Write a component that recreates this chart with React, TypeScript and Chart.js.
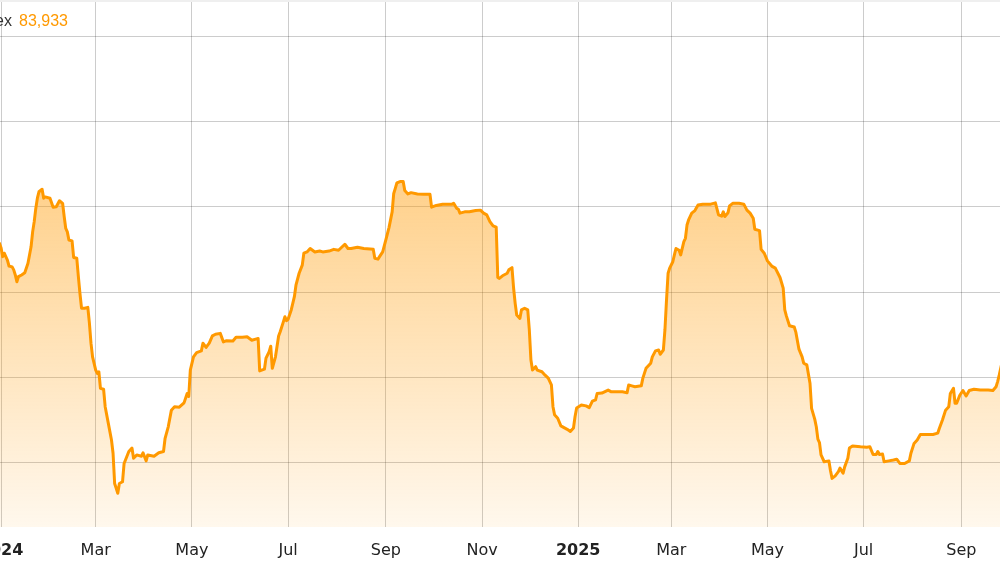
import React, { useEffect, useRef } from 'react';
import { Chart, registerables } from 'chart.js';

Chart.register(...registerables);

// Day numbers are counted from 1 January 2024 (day 0).
const days2024 = [
  -1, 0, 1, 2, 4, 5, 7, 8, 9, 10, 11, 13, 15, 17, 19, 20, 21, 22, 23, 24, 26, 27, 28, 31, 33, 35, 37, 39,
  40, 41, 42, 43, 45, 46, 48, 49, 50, 51, 53, 55, 56, 57, 58, 60, 61, 62, 63, 65, 66, 68, 70, 71, 72, 73,
  74, 75, 77, 78, 81, 83, 84, 86, 89, 90, 92, 93, 97, 100, 103, 104, 106, 108, 110, 113, 116, 118, 119,
  120, 122, 124, 127, 128, 130, 132, 134, 136, 139, 141, 143, 147, 149, 153, 156, 159, 162, 163, 164,
  167, 168, 170, 171, 172, 174, 176, 177, 179, 180, 181, 182, 184, 186, 187, 189, 191, 192, 194, 196,
  199, 202, 204, 208, 211, 214, 216, 218, 220, 222, 226, 230, 236, 237, 239, 240, 242, 244, 246, 248,
  249, 250, 251, 253, 255, 256, 258, 260, 264, 268, 272, 273, 276, 280, 286, 287, 289, 290, 291, 294,
  297, 301, 304, 306, 308, 310, 312, 314, 315, 316, 318, 321, 322, 324, 325, 326, 327, 329, 330, 332,
  334, 335, 336, 337, 339, 340, 343, 345, 347, 349, 350, 351, 353, 355, 357, 359, 361, 363, 364, 365,
];
const values2024 = [
  111400, 110300, 108300, 109100, 107500, 106100, 105900, 105200, 104000, 102400, 103600, 104000, 104500,
  106700, 110600, 114100, 116500, 119600, 122000, 123500, 124100, 122000, 122300, 122000, 119900, 120000,
  121400, 120800, 117700, 114900, 114100, 112200, 112000, 108100, 107900, 103600, 99700, 96200, 96200,
  96400, 92700, 88000, 84800, 81700, 80900, 81300, 77400, 77200, 73100, 69200, 65300, 62200, 55100, 54000,
  52800, 55100, 55500, 59800, 62600, 63400, 61000, 61800, 61500, 62300, 60400, 61800, 61500, 62300, 62600,
  65700, 68400, 72300, 73100, 73000, 74000, 76200, 75500, 81700, 84800, 85800, 86200, 88000, 87000, 88000,
  89700, 90100, 90300, 88300, 88600, 88500, 89400, 89400, 89500, 88700, 89000, 89100, 81500, 81900, 84500,
  86000, 87300, 82100, 84800, 89700, 90700, 93000, 94200, 93300, 93600, 95800, 98900, 101600, 104400,
  106300, 109100, 109400, 110200, 109400, 109600, 109400, 109600, 110000, 109800, 110500, 111200, 110200,
  110200, 110500, 110200, 110000, 107900, 107700, 108300, 109400, 112200, 115100, 118800, 123100, 124300,
  125600, 125900, 125900, 123800, 123000, 123300, 123000, 122900, 122900, 119900, 120300, 120600, 120600,
  120800, 119600, 119400, 118500, 118800, 118800, 119100, 119200, 118500, 118100, 116500, 115500, 115200,
  103400, 103200, 103800, 104400, 105200, 105700, 101000, 97400, 94600, 93800, 95800, 96200, 95800, 91100,
  84100, 81700, 82500, 81700, 81300, 80500, 79800, 78200, 73100, 71200, 70400, 68600, 68200, 67800, 67300,
  68100, 70800, 72800,
];
const days2025 = [
  368, 371, 373, 375, 377, 378, 381, 385, 387, 390, 394, 397, 398, 400, 402, 406, 407, 409, 412, 413, 415,
  417, 418, 420, 421, 422, 423, 424, 426, 427, 428, 430, 431, 433, 434, 435, 436, 438, 440, 442, 445, 450,
  453, 455, 457, 458, 459, 461, 462, 464, 468, 471, 473, 475, 477, 478, 481, 482, 484, 486, 489, 491, 494,
  496, 497, 498, 500, 503, 504, 506, 508, 509, 511, 513, 514, 516, 517, 518, 519, 520, 522, 525, 526, 527,
  529, 531, 532, 534, 535, 537, 538, 540, 545, 549, 551, 553, 555, 556, 557, 559, 560, 563, 566, 568, 570,
  573, 576, 577, 579, 581, 583, 587, 591, 594, 595, 597, 599, 601, 602, 604, 605, 606, 608, 610, 612, 614,
  617, 621, 626, 629, 631, 632, 633, 635,
];
const values2025 = [
  73500, 73300, 72900, 74400, 74700, 76200, 76300, 77000, 76600, 76600, 76600, 76400, 78200, 78000, 77800,
  78000, 79800, 82100, 83300, 84800, 86200, 86400, 85400, 86400, 91100, 98100, 104400, 105600, 107100,
  108700, 110200, 109800, 108700, 111800, 112600, 115700, 116900, 118500, 119100, 120400, 120600, 120600,
  120900, 118100, 117800, 118800, 117700, 118600, 120200, 120800, 120800, 120600, 119200, 118500, 117300,
  114700, 114400, 110000, 109100, 107300, 106000, 105600, 103400, 100900, 95800, 94400, 92100, 91800, 90600,
  86600, 84800, 83300, 82900, 78600, 72700, 70200, 68400, 65500, 64700, 61800, 60200, 60400, 58100, 56300,
  56900, 57900, 58700, 57500, 59000, 61000, 63400, 63900, 63700, 63600, 63700, 61900, 61900, 62600, 61900,
  62000, 60200, 60400, 60600, 60800, 59800, 59800, 60400, 62200, 64500, 65300, 66600, 66600, 66600, 66900,
  68000, 70000, 72300, 73100, 76200, 77400, 73900, 73900, 75800, 76900, 75600, 76900, 77200, 77000, 77000,
  76900, 77800, 79000, 80500, 83933,
];

const tickDays = [0, 60, 121, 182, 244, 305, 366, 425, 486, 547, 609];
const tickLabels = ['2024', 'Mar', 'May', 'Jul', 'Sep', 'Nov', '2025', 'Mar', 'May', 'Jul', 'Sep'];
const yGridValues = [60000, 80000, 100000, 120000, 140000, 160000];
const seriesName = 'Index';

const X_MIN = -0.7;
const X_MAX = 633.5;
const Y_MIN = 44900;
const Y_MAX = 168470;

const allDays = [...days2024, ...days2025];
const allValues = [...values2024, ...values2025];
const lastValue = allValues[allValues.length - 1];

const LINE_COLOR = '#ff9900';
const GRID_COLOR = 'rgba(0,0,0,0.2)';

const seriesLabelPlugin = {
  id: 'seriesLabel',
  afterDatasetsDraw(chart: any) {
    const ctx = chart.ctx;
    ctx.save();
    ctx.font = '16px "Liberation Sans", Arial, sans-serif';
    ctx.textBaseline = 'alphabetic';
    ctx.textAlign = 'right';
    ctx.fillStyle = '#333333';
    ctx.fillText(seriesName, 12, 26);
    ctx.textAlign = 'left';
    ctx.fillStyle = LINE_COLOR;
    ctx.fillText(lastValue.toLocaleString('en-US'), 19, 26);
    ctx.restore();
  },
};

export default function App() {
  const canvasRef = useRef<HTMLCanvasElement | null>(null);

  useEffect(() => {
    const canvas = canvasRef.current;
    if (!canvas) return;
    const points = allDays.map((d, i) => ({ x: d, y: allValues[i] }));

    const chart = new Chart(canvas, {
      type: 'line',
      data: {
        datasets: [
          {
            label: seriesName,
            data: points,
            borderColor: LINE_COLOR,
            borderWidth: 3,
            borderJoinStyle: 'round',
            borderCapStyle: 'round',
            pointRadius: 0,
            tension: 0,
            fill: 'start',
            backgroundColor: (context: any) => {
              const { chart: c } = context;
              const area = c.chartArea;
              if (!area) return 'rgba(255,153,0,0.3)';
              const g = c.ctx.createLinearGradient(0, area.top, 0, area.bottom);
              g.addColorStop(0, 'rgba(255,153,0,0.66)');
              g.addColorStop(1, 'rgba(255,153,0,0.07)');
              return g;
            },
          },
        ],
      },
      options: {
        responsive: false,
        animation: false,
        devicePixelRatio: 1,
        layout: { padding: 0 },
        plugins: {
          legend: { display: false },
          tooltip: { enabled: false },
        },
        scales: {
          x: {
            type: 'linear',
            min: X_MIN,
            max: X_MAX,
            grid: { color: GRID_COLOR, drawTicks: false, lineWidth: 1 },
            border: { display: false },
            afterBuildTicks: (scale: any) => {
              scale.ticks = tickDays.map((v) => ({ value: v }));
            },
            afterFit: (scale: any) => {
              scale.paddingLeft = 0;
              scale.paddingRight = 0;
              scale.height = 44;
            },
            ticks: {
              autoSkip: false,
              maxRotation: 0,
              padding: 14,
              color: '#222222',
              font: (ctx: any) => ({
                family: '"DejaVu Sans", sans-serif',
                size: 16,
                weight: /^\d{4}$/.test(tickLabels[ctx.index] || '') ? 'bold' : 'normal',
              }),
              callback: (value: any) => {
                const i = tickDays.indexOf(Number(value));
                return i >= 0 ? tickLabels[i] : '';
              },
            },
          },
          y: {
            type: 'linear',
            min: Y_MIN,
            max: Y_MAX,
            grid: { color: GRID_COLOR, drawTicks: false, lineWidth: 1 },
            border: { display: false },
            ticks: { display: false },
            afterBuildTicks: (scale: any) => {
              scale.ticks = yGridValues.map((v) => ({ value: v }));
            },
            afterFit: (scale: any) => {
              scale.width = 0;
              scale.paddingTop = 0;
              scale.paddingBottom = 0;
            },
          },
        },
      },
      plugins: [seriesLabelPlugin],
    } as any);

    return () => chart.destroy();
  }, []);

  return (
    <div
      style={{
        position: 'fixed',
        left: 0,
        top: 0,
        width: 1000,
        height: 571,
        overflow: 'hidden',
        background: '#ffffff',
      }}
    >
      <canvas ref={canvasRef} width={1000} height={571} style={{ width: 1000, height: 571, display: 'block' }} />
      <div
        style={{
          position: 'absolute',
          left: 0,
          top: 0,
          width: 1000,
          height: 2,
          background: '#efefef',
        }}
      />
    </div>
  );
}
